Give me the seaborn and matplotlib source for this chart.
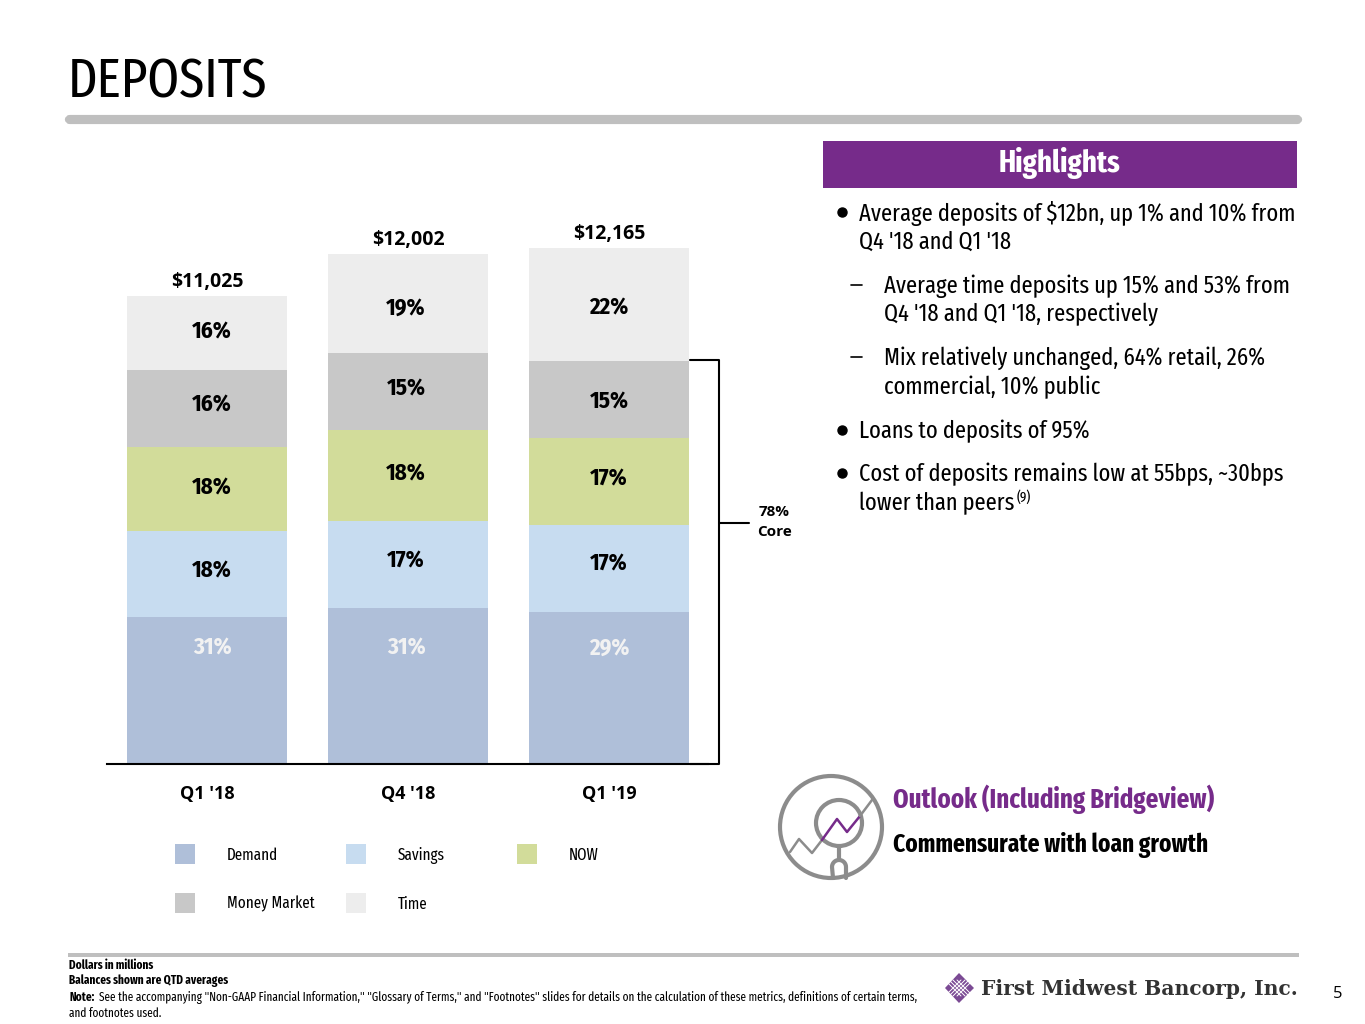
import numpy as np
import pandas as pd
import matplotlib
matplotlib.use("Agg")
import matplotlib.pyplot as plt
from matplotlib import font_manager as fm
from matplotlib.patches import Rectangle, Circle, FancyBboxPatch, Polygon
import seaborn as sns

quarters = ["Q1 '18", "Q4 '18", "Q1 '19"]
totals = ["$11,025", "$12,002", "$12,165"]
series_names = ["Demand", "Savings", "NOW", "Money Market", "Time"]
demand = [3465, 3671, 3585]
savings = [2026, 2047, 2050]
now = [1978, 2141, 2040]
money_market = [1795, 1812, 1815]
time_dep = [1742, 2331, 2645]
pct_demand = ["31%", "31%", "29%"]
pct_savings = ["18%", "17%", "17%"]
pct_now = ["18%", "18%", "17%"]
pct_mm = ["16%", "15%", "15%"]
pct_time = ["16%", "19%", "22%"]
colors = ["#AFBFD9", "#C7DCF0", "#D2DC9A", "#C8C8C8", "#EDEDED"]

# condensed faces if the machine has them, otherwise shrink Liberation to fit
installed = {f.name for f in fm.fontManager.ttflist}
NARROW = ["Fira Sans Extra Condensed", "Liberation Sans", "DejaVu Sans"]
COND = ["Fira Sans Condensed", "Liberation Sans", "DejaVu Sans"]
SCALE = 1.0 if NARROW[0] in installed else 0.68
OPEN = ["Open Sans", "DejaVu Sans"]
PURPLE = "#762B8A"

sns.set_theme(style="white")
plt.rcParams["font.family"] = NARROW

fig = plt.figure(figsize=(13.65, 10.24), dpi=100)

# chart axes: baseline at y=764, category spacing 201px
ax = fig.add_axes([107 / 1365, (1024 - 764) / 1024, 601 / 1365, 564 / 1024])

df = pd.DataFrame({"quarter": quarters, "Demand": demand, "Savings": savings, "NOW": now,
                   "Money Market": money_market, "Time": time_dep})
bottom = np.zeros(len(quarters))
for name, col in zip(series_names, colors):
    sns.barplot(data=df, x="quarter", y=name, color=col, bottom=bottom, width=0.796,
                saturation=1, ax=ax, linewidth=0)
    bottom = bottom + df[name].values
ax.set_xlim(-0.4975, 2.4925)
ax.set_ylim(0, 13271)
ax.set_xlabel("")
ax.set_ylabel("")
ax.set_yticks([])
ax.set_xticks(range(3))
ax.set_xticklabels(quarters, fontsize=13, fontweight="bold", family=OPEN, color="black")
ax.tick_params(axis="x", length=0, pad=15)
for s in ["top", "left", "right"]:
    ax.spines[s].set_visible(False)
ax.spines["bottom"].set_color("black")
ax.spines["bottom"].set_linewidth(1.5)

# overlay in pixel coords for all the slide furniture
bg = fig.add_axes([0, 0, 1, 1])
bg.patch.set_alpha(0)
bg.set_xlim(0, 1365)
bg.set_ylim(1024, 0)
bg.axis("off")


def txt(x, y, s, size, **kw):
    kw.setdefault("va", "center")
    kw.setdefault("color", "black")
    return bg.text(x, y, s, fontsize=size * SCALE, **kw)


# percent labels sit where the slide had them, not centred
label_x = [212, 406, 609]
rows = [(pct_time, [332, 308, 308]), (pct_mm, [405, 389, 402]), (pct_now, [488, 474, 479]),
        (pct_savings, [571, 561, 564]), (pct_demand, [648, 648, 648])]
for labels, ys in rows:
    for x, y, t in zip(label_x, ys, labels):
        c = "#F2F2F2" if labels is pct_demand else "black"
        txt(x, y, t, 16.5, ha="center", fontweight="bold", color=c, family=COND)
for x, y, t in zip([207, 408, 609], [282, 240, 234], totals):
    bg.text(x, y, t, ha="center", va="center", fontsize=14, fontweight="bold", family=OPEN, color="black")

# title and rules
txt(68, 82, "DEPOSITS", 40)
bg.add_patch(FancyBboxPatch((67, 117), 1233, 5, boxstyle="round,pad=0,rounding_size=3", fc="#BFBFBF", ec="#BFBFBF", lw=3))
bg.add_patch(Rectangle((68, 953), 1231, 4, fc="#BFBFBF", ec="none"))

# highlights box
bg.add_patch(Rectangle((823, 141), 474, 47, fc=PURPLE, ec="none"))
txt(1060, 163, "Highlights", 22.5, color="white", fontweight="bold", ha="center")
body = [(859, 213, "Average deposits of $12bn, up 1% and 10% from"), (859, 242, "Q4 '18 and Q1 '18"),
        (884, 286, "Average time deposits up 15% and 53% from"), (884, 314, "Q4 '18 and Q1 '18, respectively"),
        (884, 358, "Mix relatively unchanged, 64% retail, 26%"), (884, 387, "commercial, 10% public"),
        (859, 431, "Loans to deposits of 95%"), (859, 474, "Cost of deposits remains low at 55bps, ~30bps"),
        (859, 503, "lower than peers")]
for x, y, t in body:
    txt(x, y, t, 17.6, ha="left")
txt(1017, 497, "(9)", 10.5, ha="left")
for y in [212, 430, 473]:
    bg.plot([842], [y], "o", ms=6.5, color="black")
for y in [285, 357]:
    bg.plot([851, 862], [y, y], color="black", lw=1.2)

# core bracket
bg.plot([690, 719, 719, 690], [360, 360, 764, 764], color="black", lw=1.5)
bg.plot([719, 749], [523, 523], color="black", lw=1.5)
bg.text(774, 512, "78%", ha="center", va="center", fontsize=11, fontweight="bold", family=OPEN, color="black")
bg.text(774, 532, "Core", ha="center", va="center", fontsize=11, fontweight="bold", family=OPEN, color="black")

# legend
leg_pos = [(175, 854), (346, 854), (517, 854), (175, 903), (346, 903)]
for (x, y), name, col in zip(leg_pos, series_names, colors):
    bg.add_patch(Rectangle((x, y - 10), 20, 20, fc=col, ec="none"))
    txt(x + 52, y + 1, name, 11.8, ha="left")

# outlook icon
GREY = "#8C8C8C"
bg.add_patch(Circle((831, 827), 51, fc="none", ec=GREY, lw=3))
bg.add_patch(Circle((839, 823), 23, fc="none", ec=GREY, lw=3))
bg.plot([790, 799, 812, 822], [852, 839, 853, 840], color=GREY, lw=1.8)
bg.plot([822, 837, 847, 860], [840, 819, 832, 816], color=PURPLE, lw=1.8)
bg.plot([860, 872], [816, 800], color=GREY, lw=1.8)
bg.plot([839, 839], [847, 860], color=GREY, lw=3)
t = np.linspace(np.pi, 0, 20)
bg.plot(np.r_[833, 839 + 7 * np.cos(t), 846], np.r_[878, 867 - 7 * np.sin(t), 878], color=GREY, lw=3)
txt(893, 799, "Outlook (Including Bridgeview)", 19.4, color=PURPLE, fontweight="bold")
txt(893, 845, "Commensurate with loan growth", 18.2, fontweight="bold")

# footer
txt(69, 965, "Dollars in millions", 8.8, fontweight="bold")
txt(69, 981, "Balances shown are QTD averages", 8.8, fontweight="bold")
txt(69, 997, "Note:", 8.8, fontweight="bold")
txt(99, 997, "See the accompanying \"Non-GAAP Financial Information,\" \"Glossary of Terms,\" and \"Footnotes\" slides for details on the calculation of these metrics, definitions of certain terms,", 8.8)
txt(69, 1013, "and footnotes used.", 8.8)
bg.text(1338, 994, "5", fontsize=12, ha="center", va="center", family=OPEN, color="black")

# logo
bg.add_patch(Polygon([(959, 973), (974, 988), (959, 1003), (945, 988)], fc="#7B4A94", ec="none"))
for d in [-6, -2, 2, 6]:
    bg.plot([959 + d - 8, 959 + d + 8], [988 - 8, 988 + 8], color="white", lw=0.7)
    bg.plot([959 + d - 8, 959 + d + 8], [988 + 8, 988 - 8], color="white", lw=0.7)
bg.text(981, 989, "First Midwest Bancorp, Inc.", fontsize=14.6, fontweight="bold", va="center", color="#333333",
        family=["DejaVu Serif"])

fig.savefig("out.png", dpi=100, facecolor="white")
